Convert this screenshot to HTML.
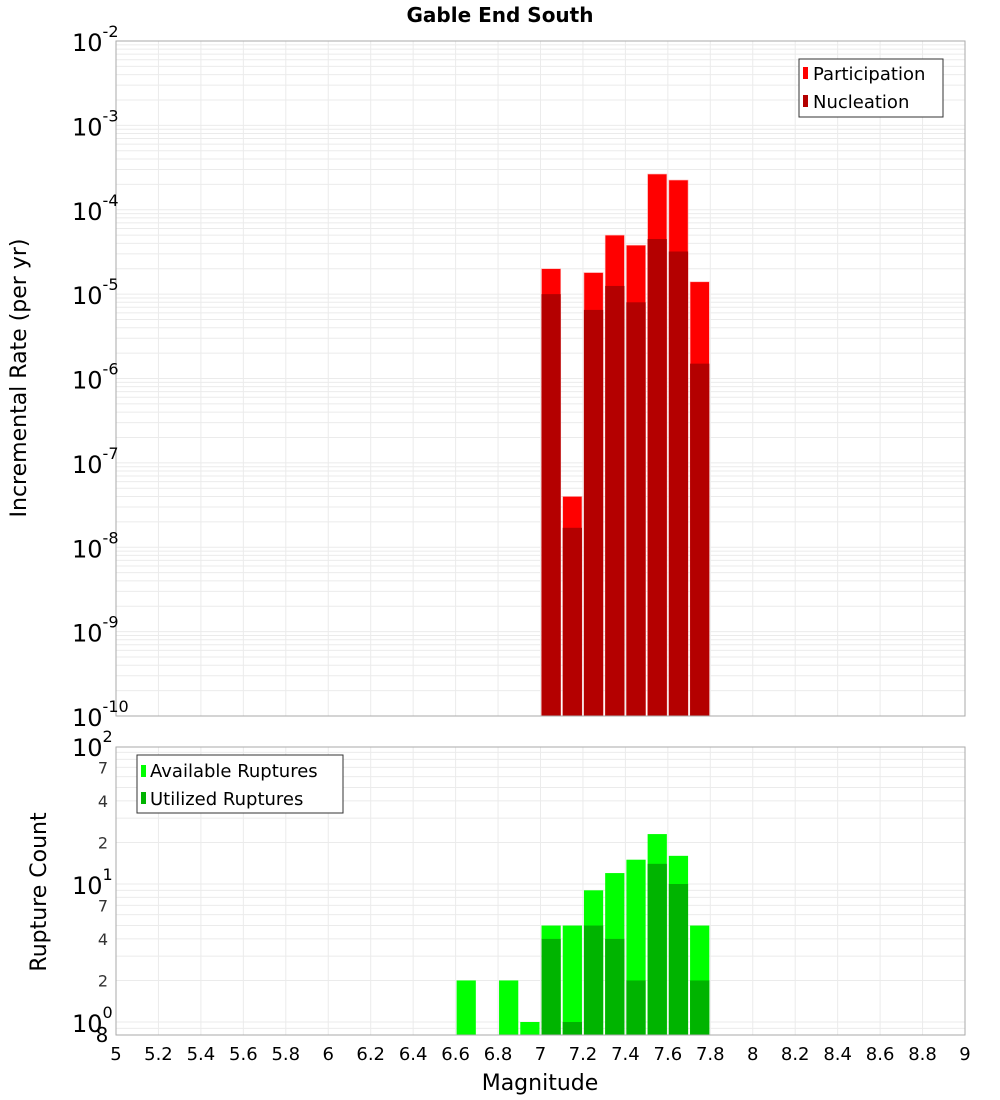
<!DOCTYPE html>
<html><head><meta charset="utf-8"><style>
body{margin:0;background:#fff;font-family:"DejaVu Sans","Liberation Sans",sans-serif}
svg{display:block}
</style></head><body>
<svg id="c" width="1000" height="1100" xmlns="http://www.w3.org/2000/svg"></svg>
<script>
const binCenters=[6.65,6.85,6.95,7.05,7.15,7.25,7.35,7.45,7.55,7.65,7.75];
const participation=[0,0,0,2.0e-5,4e-8,1.8e-5,5e-5,3.8e-5,2.65e-4,2.25e-4,1.4e-5];
const nucleation=[0,0,0,1.0e-5,1.7e-8,6.5e-6,1.25e-5,8e-6,4.5e-5,3.2e-5,1.5e-6];
const available=[2,2,1,5,5,9,12,15,23,16,5];
const utilized=[0,0,0,4,1,5,4,2,14,10,2];
const xTicks=[5,5.2,5.4,5.6,5.8,6,6.2,6.4,6.6,6.8,7,7.2,7.4,7.6,7.8,8,8.2,8.4,8.6,8.8,9];
const topExps=[-2,-3,-4,-5,-6,-7,-8,-9,-10];
const botMinor=[7,4,2];

const svg=document.getElementById('c');const NS='http://www.w3.org/2000/svg';
function el(t,a,p){const e=document.createElementNS(NS,t);for(const k in a)e.setAttribute(k,a[k]);(p||svg).appendChild(e);return e;}
const L=116,R=965;
const X=v=>L+(v-5)/4*(R-L);
const T0=41,T1=716;const YT=v=>T0+(-2-Math.log10(v))/8*(T1-T0);
const B0=747,B1=1035;const YB=v=>884+(1-Math.log10(v))*138;

// title
let t=el('text',{x:500,y:22,'text-anchor':'middle','font-size':20,'font-weight':'bold'});t.textContent='Gable End South';


function panel(y0,y1,name){
  const g=el('g',{});
  el('rect',{x:L,y:y0,width:R-L,height:y1-y0,fill:'#fff'},g);
  return g;
}
// top panel
const gt=panel(T0,T1,'rate-plot');
for(let e=-10;e<-2;e++)for(let m=1;m<10;m++){const y=YT(m*Math.pow(10,e));el('line',{x1:L,x2:R,y1:y,y2:y,stroke:'#ebebeb','stroke-width':1},gt);}
xTicks.forEach(v=>el('line',{x1:X(v),x2:X(v),y1:T0,y2:T1,stroke:'#ebebeb'},gt));
binCenters.forEach((c,i)=>{
  if(participation[i]>0){const y=YT(participation[i]);const r=el('rect',{x:X(c-0.05)+1,y:y,width:X(c+0.05)-X(c-0.05)-2,height:T1-y,fill:'#ff0000',stroke:'#ffb0b0','stroke-width':0.6},gt);
  }
  if(nucleation[i]>0){const y=YT(nucleation[i]);const r=el('rect',{x:X(c-0.05)+1,y:y,width:X(c+0.05)-X(c-0.05)-2,height:T1-y,fill:'#b40000'},gt);
  }
});
el('rect',{x:L,y:T0,width:R-L,height:T1-T0,fill:'none',stroke:'#aaa'},gt);
topExps.forEach(e=>{const y=YT(Math.pow(10,e));
  const tx=el('text',{x:72,y:y+10,'font-size':24});tx.textContent='10';
  const s=el('tspan',{dy:-14,'font-size':16},tx);s.textContent=String(e);
  });
let yl=el('text',{transform:'translate(26,378) rotate(-90)','text-anchor':'middle','font-size':22});yl.textContent='Incremental Rate (per yr)';

// top legend
const lg=el('g',{});
el('rect',{x:799,y:59,width:144,height:58,fill:'#fff',stroke:'#333'},lg);
el('rect',{x:803,y:67,width:5,height:12,fill:'#ff0000'},lg);el('rect',{x:803,y:95,width:5,height:12,fill:'#b40000'},lg);
let a=el('text',{x:813,y:80,'font-size':18},lg);a.textContent='Participation';
a=el('text',{x:813,y:108,'font-size':18},lg);a.textContent='Nucleation';

// bottom panel
const gb=panel(B0,B1,'rupture-count-plot');
[0.8,0.9,1,2,3,4,5,6,7,8,9,10,20,30,40,50,60,70,80,90,100].forEach(v=>{const y=YB(v);if(y>=B0&&y<=B1)el('line',{x1:L,x2:R,y1:y,y2:y,stroke:'#ebebeb'},gb);});
xTicks.forEach(v=>el('line',{x1:X(v),x2:X(v),y1:B0,y2:B1,stroke:'#ebebeb'},gb));
binCenters.forEach((c,i)=>{
  if(available[i]>0){const y=YB(available[i]);const r=el('rect',{x:X(c-0.05)+1,y:y,width:X(c+0.05)-X(c-0.05)-2,height:B1-y,fill:'#00ff00'},gb);
  }
  if(utilized[i]>0){const y=YB(utilized[i]);const r=el('rect',{x:X(c-0.05)+1,y:y,width:X(c+0.05)-X(c-0.05)-2,height:B1-y,fill:'#00b400'},gb);
  }
});
el('rect',{x:L,y:B0,width:R-L,height:B1-B0,fill:'none',stroke:'#aaa'},gb);
[[100,'2'],[10,'1'],[1,'0']].forEach(([v,e])=>{const y=YB(v);
  const tx=el('text',{x:72,y:y+10,'font-size':24});tx.textContent='10';
  const s=el('tspan',{dy:-14,'font-size':16},tx);s.textContent=e;
  });
[1,10].forEach(d=>botMinor.forEach(m=>{const tx=el('text',{x:103,y:YB(m*d)+6,'text-anchor':'middle','font-size':16,fill:'#333'});tx.textContent=String(m);
  }));
let e8=el('text',{x:102,y:1042,'text-anchor':'middle','font-size':20});e8.textContent='8';

yl=el('text',{transform:'translate(46,892) rotate(-90)','text-anchor':'middle','font-size':22});yl.textContent='Rupture Count';

const lb=el('g',{});
el('rect',{x:137,y:755,width:206,height:58,fill:'#fff',stroke:'#333'},lb);
el('rect',{x:141,y:765,width:5,height:12,fill:'#00ff00'},lb);el('rect',{x:141,y:792,width:5,height:12,fill:'#00b400'},lb);
a=el('text',{x:150,y:777,'font-size':18},lb);a.textContent='Available Ruptures';
a=el('text',{x:150,y:805,'font-size':18},lb);a.textContent='Utilized Ruptures';

xTicks.forEach(v=>{const tx=el('text',{x:X(v),y:1060,'text-anchor':'middle','font-size':18});tx.textContent=String(v);
  });
let xl=el('text',{x:540,y:1090,'text-anchor':'middle','font-size':22});xl.textContent='Magnitude';

</script>
</body></html>
